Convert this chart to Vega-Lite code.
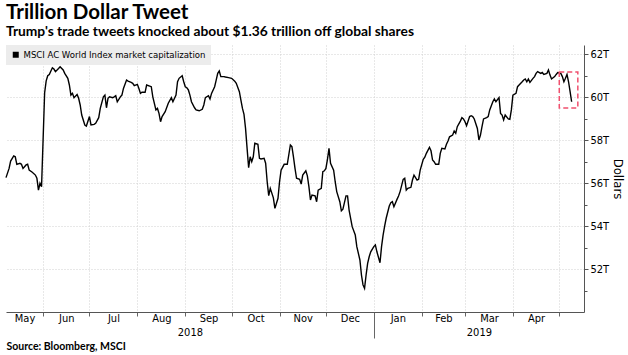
{
  "$schema": "https://vega.github.io/schema/vega-lite/v6.json",
  "width": 578,
  "height": 267,
  "autosize": {"type": "none"},
  "padding": {"top": 45, "left": 6, "right": 44, "bottom": 43},
  "background": "white",
  "title": {
    "text": "Trillion Dollar Tweet",
    "subtitle": "Trump's trade tweets knocked about $1.36 trillion off global shares",
    "anchor": "start",
    "frame": "group",
    "font": "Lato",
    "fontSize": 20.5,
    "fontWeight": "bold",
    "color": "black",
    "subtitleFont": "Lato",
    "subtitleFontSize": 13.8,
    "subtitleFontWeight": "bold",
    "subtitleColor": "black",
    "subtitlePadding": 2,
    "offset": 6
  },
  "config": {
    "view": {"stroke": null},
    "axis": {"labelFont": "DejaVu Sans Condensed", "labelColor": "black", "titleFont": "DejaVu Sans Condensed", "titleColor": "black"}
  },
  "layer": [
    {
      "data": {"values": [
        {"d":"2018-05-08","v":56.25},{"d":"2018-05-10","v":56.68},{"d":"2018-05-11","v":57.02},{"d":"2018-05-13","v":57.26},{"d":"2018-05-14","v":57.22},{"d":"2018-05-15","v":56.87},{"d":"2018-05-17","v":56.92},{"d":"2018-05-18","v":56.87},{"d":"2018-05-19","v":56.68},{"d":"2018-05-21","v":56.84},{"d":"2018-05-22","v":56.87},{"d":"2018-05-23","v":56.60},{"d":"2018-05-25","v":56.50},{"d":"2018-05-27","v":56.37},{"d":"2018-05-28","v":56.22},{"d":"2018-05-29","v":55.67},{"d":"2018-05-30","v":55.99},{"d":"2018-05-31","v":55.83},
        {"d":"2018-06-02","v":60.20},{"d":"2018-06-03","v":60.75},{"d":"2018-06-04","v":60.99},{"d":"2018-06-05","v":61.05},{"d":"2018-06-07","v":61.36},{"d":"2018-06-08","v":61.30},{"d":"2018-06-09","v":61.18},{"d":"2018-06-11","v":61.33},{"d":"2018-06-12","v":61.41},{"d":"2018-06-14","v":61.26},{"d":"2018-06-15","v":61.10},{"d":"2018-06-17","v":60.87},{"d":"2018-06-18","v":60.56},{"d":"2018-06-19","v":60.09},{"d":"2018-06-20","v":60.17},{"d":"2018-06-21","v":59.97},{"d":"2018-06-23","v":60.12},{"d":"2018-06-24","v":59.94},{"d":"2018-06-25","v":59.63},{"d":"2018-06-26","v":59.16},{"d":"2018-06-28","v":58.70},{"d":"2018-06-29","v":58.65},
        {"d":"2018-07-01","v":59.09},{"d":"2018-07-02","v":58.70},{"d":"2018-07-04","v":58.73},{"d":"2018-07-05","v":58.78},{"d":"2018-07-07","v":59.04},{"d":"2018-07-08","v":59.47},{"d":"2018-07-10","v":60.01},{"d":"2018-07-11","v":60.09},{"d":"2018-07-12","v":59.50},{"d":"2018-07-13","v":59.94},{"d":"2018-07-14","v":60.01},{"d":"2018-07-16","v":59.97},{"d":"2018-07-17","v":60.01},{"d":"2018-07-18","v":60.06},{"d":"2018-07-19","v":59.78},{"d":"2018-07-21","v":60.01},{"d":"2018-07-22","v":60.09},{"d":"2018-07-23","v":60.40},{"d":"2018-07-25","v":60.79},{"d":"2018-07-26","v":60.74},{"d":"2018-07-28","v":60.68},{"d":"2018-07-29","v":60.64},{"d":"2018-07-30","v":60.53},
        {"d":"2018-08-01","v":60.59},{"d":"2018-08-02","v":60.40},{"d":"2018-08-03","v":60.17},{"d":"2018-08-04","v":60.22},{"d":"2018-08-06","v":60.22},{"d":"2018-08-07","v":60.56},{"d":"2018-08-09","v":60.51},{"d":"2018-08-10","v":60.48},{"d":"2018-08-11","v":60.01},{"d":"2018-08-13","v":59.40},{"d":"2018-08-14","v":59.47},{"d":"2018-08-15","v":59.24},{"d":"2018-08-16","v":58.85},{"d":"2018-08-17","v":59.09},{"d":"2018-08-19","v":59.32},{"d":"2018-08-21","v":59.71},{"d":"2018-08-23","v":59.97},{"d":"2018-08-24","v":59.78},{"d":"2018-08-26","v":60.09},{"d":"2018-08-27","v":60.71},{"d":"2018-08-28","v":60.87},{"d":"2018-08-30","v":60.99},{"d":"2018-08-31","v":60.71},
        {"d":"2018-09-01","v":60.48},{"d":"2018-09-02","v":60.43},{"d":"2018-09-03","v":60.33},{"d":"2018-09-04","v":60.09},{"d":"2018-09-05","v":59.78},{"d":"2018-09-07","v":59.50},{"d":"2018-09-08","v":59.40},{"d":"2018-09-10","v":59.36},{"d":"2018-09-12","v":59.43},{"d":"2018-09-13","v":59.63},{"d":"2018-09-14","v":59.97},{"d":"2018-09-16","v":60.06},{"d":"2018-09-17","v":59.91},{"d":"2018-09-18","v":60.17},{"d":"2018-09-20","v":60.48},{"d":"2018-09-21","v":60.79},{"d":"2018-09-22","v":61.10},{"d":"2018-09-23","v":61.21},{"d":"2018-09-24","v":60.95},{"d":"2018-09-26","v":60.95},{"d":"2018-09-27","v":60.93},{"d":"2018-09-29","v":60.90},
        {"d":"2018-10-01","v":60.87},{"d":"2018-10-03","v":60.74},{"d":"2018-10-04","v":60.64},{"d":"2018-10-06","v":60.25},{"d":"2018-10-07","v":59.86},{"d":"2018-10-08","v":59.47},{"d":"2018-10-09","v":59.19},{"d":"2018-10-10","v":58.54},{"d":"2018-10-11","v":57.61},{"d":"2018-10-12","v":56.71},{"d":"2018-10-13","v":57.22},{"d":"2018-10-14","v":56.99},{"d":"2018-10-15","v":57.22},{"d":"2018-10-16","v":57.85},{"d":"2018-10-18","v":57.80},{"d":"2018-10-19","v":57.15},{"d":"2018-10-20","v":57.12},{"d":"2018-10-22","v":57.15},{"d":"2018-10-23","v":56.92},{"d":"2018-10-24","v":56.06},{"d":"2018-10-25","v":55.41},{"d":"2018-10-26","v":55.75},{"d":"2018-10-28","v":55.31},{"d":"2018-10-29","v":54.82},{"d":"2018-10-31","v":55.29},
        {"d":"2018-11-01","v":56.06},{"d":"2018-11-02","v":56.60},{"d":"2018-11-04","v":56.87},{"d":"2018-11-06","v":56.87},{"d":"2018-11-08","v":57.77},{"d":"2018-11-09","v":57.69},{"d":"2018-11-10","v":57.22},{"d":"2018-11-11","v":56.68},{"d":"2018-11-12","v":56.22},{"d":"2018-11-14","v":56.17},{"d":"2018-11-15","v":55.95},{"d":"2018-11-16","v":56.37},{"d":"2018-11-18","v":56.57},{"d":"2018-11-19","v":56.33},{"d":"2018-11-20","v":55.83},{"d":"2018-11-21","v":55.21},{"d":"2018-11-22","v":55.44},{"d":"2018-11-24","v":55.40},{"d":"2018-11-25","v":55.13},{"d":"2018-11-26","v":55.67},{"d":"2018-11-28","v":55.75},{"d":"2018-11-29","v":56.53},{"d":"2018-11-30","v":56.57},
        {"d":"2018-12-01","v":56.68},{"d":"2018-12-02","v":57.10},{"d":"2018-12-03","v":57.61},{"d":"2018-12-04","v":56.92},{"d":"2018-12-06","v":56.60},{"d":"2018-12-07","v":56.06},{"d":"2018-12-08","v":55.60},{"d":"2018-12-10","v":55.13},{"d":"2018-12-11","v":54.71},{"d":"2018-12-12","v":54.78},{"d":"2018-12-14","v":55.40},{"d":"2018-12-15","v":55.40},{"d":"2018-12-16","v":54.74},{"d":"2018-12-17","v":54.36},{"d":"2018-12-18","v":53.97},{"d":"2018-12-20","v":53.58},{"d":"2018-12-21","v":53.04},{"d":"2018-12-23","v":52.42},{"d":"2018-12-24","v":51.72},{"d":"2018-12-25","v":51.26},{"d":"2018-12-26","v":51.10},{"d":"2018-12-27","v":51.72},{"d":"2018-12-28","v":52.26},{"d":"2018-12-29","v":52.57},{"d":"2018-12-30","v":52.80},
        {"d":"2019-01-01","v":53.04},{"d":"2019-01-02","v":53.12},{"d":"2019-01-03","v":52.80},{"d":"2019-01-05","v":52.29},{"d":"2019-01-06","v":53.04},{"d":"2019-01-07","v":53.58},{"d":"2019-01-08","v":54.00},{"d":"2019-01-09","v":54.36},{"d":"2019-01-11","v":54.93},{"d":"2019-01-12","v":55.08},{"d":"2019-01-13","v":55.13},{"d":"2019-01-14","v":54.90},{"d":"2019-01-16","v":55.24},{"d":"2019-01-17","v":55.40},{"d":"2019-01-18","v":55.60},{"d":"2019-01-20","v":56.17},{"d":"2019-01-21","v":56.22},{"d":"2019-01-22","v":55.67},{"d":"2019-01-23","v":55.75},{"d":"2019-01-25","v":55.80},{"d":"2019-01-26","v":56.14},{"d":"2019-01-27","v":56.37},{"d":"2019-01-29","v":56.14},{"d":"2019-01-30","v":56.17},{"d":"2019-01-31","v":56.60},
        {"d":"2019-02-02","v":57.10},{"d":"2019-02-03","v":57.20},{"d":"2019-02-04","v":57.38},{"d":"2019-02-06","v":57.66},{"d":"2019-02-07","v":57.50},{"d":"2019-02-08","v":57.07},{"d":"2019-02-09","v":56.99},{"d":"2019-02-10","v":56.87},{"d":"2019-02-12","v":56.87},{"d":"2019-02-13","v":57.38},{"d":"2019-02-14","v":57.61},{"d":"2019-02-16","v":57.58},{"d":"2019-02-17","v":57.80},{"d":"2019-02-18","v":57.95},{"d":"2019-02-19","v":58.15},{"d":"2019-02-21","v":58.23},{"d":"2019-02-22","v":58.42},{"d":"2019-02-23","v":58.31},{"d":"2019-02-24","v":58.62},{"d":"2019-02-26","v":58.88},{"d":"2019-02-27","v":59.04},{"d":"2019-02-28","v":58.98},
        {"d":"2019-03-01","v":58.85},{"d":"2019-03-02","v":58.67},{"d":"2019-03-04","v":59.09},{"d":"2019-03-05","v":59.13},{"d":"2019-03-06","v":59.09},{"d":"2019-03-07","v":58.98},{"d":"2019-03-09","v":58.54},{"d":"2019-03-10","v":58.00},{"d":"2019-03-11","v":58.23},{"d":"2019-03-12","v":58.62},{"d":"2019-03-13","v":58.98},{"d":"2019-03-15","v":59.04},{"d":"2019-03-16","v":59.09},{"d":"2019-03-17","v":59.40},{"d":"2019-03-19","v":59.78},{"d":"2019-03-20","v":59.91},{"d":"2019-03-21","v":59.78},{"d":"2019-03-23","v":59.97},{"d":"2019-03-24","v":59.24},{"d":"2019-03-25","v":59.16},{"d":"2019-03-26","v":58.93},{"d":"2019-03-27","v":59.16},{"d":"2019-03-29","v":58.98},{"d":"2019-03-30","v":58.96},{"d":"2019-03-31","v":59.40},
        {"d":"2019-04-01","v":60.09},{"d":"2019-04-03","v":60.17},{"d":"2019-04-04","v":60.48},{"d":"2019-04-05","v":60.56},{"d":"2019-04-07","v":60.71},{"d":"2019-04-08","v":60.79},{"d":"2019-04-09","v":60.84},{"d":"2019-04-10","v":60.71},{"d":"2019-04-11","v":60.84},{"d":"2019-04-12","v":60.68},{"d":"2019-04-14","v":60.87},{"d":"2019-04-15","v":60.95},{"d":"2019-04-16","v":61.10},{"d":"2019-04-17","v":61.18},{"d":"2019-04-19","v":61.10},{"d":"2019-04-20","v":61.14},{"d":"2019-04-21","v":61.05},{"d":"2019-04-23","v":61.10},{"d":"2019-04-24","v":61.26},{"d":"2019-04-25","v":61.02},{"d":"2019-04-26","v":60.84},{"d":"2019-04-28","v":60.95},{"d":"2019-04-29","v":61.05},{"d":"2019-04-30","v":61.14},
        {"d":"2019-05-02","v":61.10},{"d":"2019-05-03","v":60.95},{"d":"2019-05-04","v":60.71},{"d":"2019-05-05","v":60.87},{"d":"2019-05-06","v":61.05},{"d":"2019-05-07","v":60.71},{"d":"2019-05-08","v":60.25},{"d":"2019-05-09","v":59.78}
      ]},
      "mark": {"type": "line", "color": "black", "strokeWidth": 1.4},
      "encoding": {
        "x": {
          "field": "d", "type": "temporal",
          "scale": {"type": "utc", "domain": [{"year": 2018, "month": 5, "date": 8, "utc": true}, {"year": 2019, "month": 5, "date": 17, "utc": true}]},
          "axis": {
            "orient": "bottom",
            "values": [
              {"year": 2018, "month": 6, "date": 1, "utc": true}, {"year": 2018, "month": 7, "date": 1, "utc": true},
              {"year": 2018, "month": 8, "date": 1, "utc": true}, {"year": 2018, "month": 9, "date": 1, "utc": true},
              {"year": 2018, "month": 10, "date": 1, "utc": true}, {"year": 2018, "month": 11, "date": 1, "utc": true},
              {"year": 2018, "month": 12, "date": 1, "utc": true}, {"year": 2019, "month": 1, "date": 1, "utc": true},
              {"year": 2019, "month": 2, "date": 1, "utc": true}, {"year": 2019, "month": 3, "date": 1, "utc": true},
              {"year": 2019, "month": 4, "date": 1, "utc": true}, {"year": 2019, "month": 5, "date": 1, "utc": true}
            ],
            "labels": false,
            "title": null,
            "grid": true,
            "gridColor": "#d0d0d0",
            "gridDash": [1, 2],
            "ticks": true,
            "tickSize": {"condition": {"test": "utcmonth(datum.value) == 0", "value": 26}, "value": 4},
            "tickColor": "#666666",
            "domain": true,
            "domainColor": "#555555"
          }
        },
        "y": {
          "field": "v", "type": "quantitative",
          "scale": {"domain": [50, 62.42], "nice": false, "zero": false},
          "axis": {
            "orient": "right",
            "values": [52, 54, 56, 58, 60, 62],
            "labelExpr": "datum.value + 'T'",
            "labelFontSize": 11,
            "labelPadding": 2,
            "grid": true,
            "gridColor": "#d0d0d0",
            "gridDash": [1, 2],
            "tickSize": 4,
            "tickColor": "#555555",
            "domainColor": "#555555",
            "title": "Dollars",
            "titleFontSize": 13,
            "titleFontWeight": "normal",
            "titlePadding": 2
          }
        },
        "color": {
          "datum": "MSCI AC World Index market capitalization",
          "type": "nominal",
          "scale": {"range": ["black"]},
          "legend": {
            "orient": "top-left",
            "offset": 0,
            "title": null,
            "fillColor": "#ececec",
            "padding": 5,
            "labelFont": "DejaVu Sans Condensed",
            "labelFontSize": 9.5,
            "labelColor": "black",
            "labelOffset": 3,
            "labelLimit": 400,
            "symbolType": "square",
            "symbolSize": 36,
            "encode": {"symbols": {"update": {"fill": {"value": "black"}, "stroke": {"value": "black"}, "strokeWidth": {"value": 0}, "shape": {"value": "square"}}}}
          }
        }
      }
    },
    {
      "data": {"values": [{"x1": "2019-05-01", "x2": "2019-05-13", "y1": 59.49, "y2": 61.16}]},
      "mark": {"type": "rect", "fill": "white", "fillOpacity": 0, "stroke": "#f0506e", "strokeDash": [5, 3], "strokeWidth": 1.5},
      "encoding": {
        "x": {
          "field": "x1", "type": "temporal",
          "axis": {
            "orient": "bottom",
            "values": [
              {"year": 2018, "month": 5, "date": 20, "utc": true},
              {"year": 2018, "month": 6, "date": 16, "utc": true},
              {"year": 2018, "month": 7, "date": 16, "hours": 12, "utc": true},
              {"year": 2018, "month": 8, "date": 16, "hours": 12, "utc": true},
              {"year": 2018, "month": 9, "date": 16, "utc": true},
              {"year": 2018, "month": 10, "date": 16, "hours": 12, "utc": true},
              {"year": 2018, "month": 11, "date": 16, "utc": true},
              {"year": 2018, "month": 12, "date": 16, "hours": 12, "utc": true},
              {"year": 2019, "month": 1, "date": 16, "hours": 12, "utc": true},
              {"year": 2019, "month": 2, "date": 15, "utc": true},
              {"year": 2019, "month": 3, "date": 16, "hours": 12, "utc": true},
              {"year": 2019, "month": 4, "date": 16, "utc": true},
              {"year": 2018, "month": 9, "date": 4, "utc": true},
              {"year": 2019, "month": 3, "date": 10, "utc": true}
            ],
            "labelExpr": "utcdate(datum.value) < 12 ? utcFormat(datum.value, '%Y') : utcFormat(datum.value, '%b')",
            "labelPadding": {"condition": {"test": "utcdate(datum.value) < 12", "value": 14}, "value": 0},
            "labelFontSize": 11,
            "labelOverlap": false,
            "labelFlush": false,
            "labelBound": false,
            "ticks": false,
            "grid": false,
            "domain": false,
            "title": "Source: Bloomberg, MSCI",
            "titleAnchor": "start",
            "titleAlign": "left",
            "titleFont": "Lato",
            "titleFontWeight": "bold",
            "titleFontSize": 10.5,
            "titlePadding": 4
          }
        },
        "x2": {"field": "x2"},
        "y": {
          "field": "y1", "type": "quantitative",
          "axis": {
            "orient": "right",
            "values": [51, 53, 55, 57, 59, 61],
            "labels": false,
            "grid": false,
            "domain": false,
            "tickSize": 3,
            "tickColor": "#555555",
            "title": null
          }
        },
        "y2": {"field": "y2"}
      }
    }
  ],
  "resolve": {"axis": {"x": "independent", "y": "independent"}}
}
